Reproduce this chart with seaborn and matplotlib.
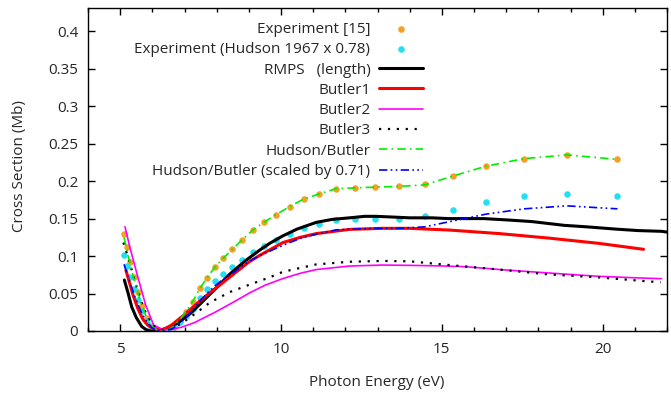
import numpy as np
import pandas as pd
import matplotlib
matplotlib.use("Agg")
import matplotlib.pyplot as plt
from matplotlib.ticker import MultipleLocator, FuncFormatter
import seaborn as sns

# ---------------- data ----------------
exp_x = [5.12, 5.2, 5.3, 5.42, 5.55, 5.68, 5.82, 5.97, 6.12, 6.3, 6.48, 6.66, 6.85,
         7.05, 7.25, 7.48, 7.7, 7.94, 8.2, 8.49, 8.8, 9.13, 9.47, 9.83, 10.27, 10.7,
         11.19, 11.72, 12.29, 12.93, 13.67, 14.47, 15.36, 16.38, 17.56, 18.89, 20.46]
exp15_y = [0.129, 0.112, 0.092, 0.072, 0.052, 0.034, 0.018, 0.007, 0.002, 0.0, 0.001,
           0.006, 0.015, 0.026, 0.039, 0.057, 0.071, 0.085, 0.097, 0.109, 0.122, 0.135,
           0.145, 0.155, 0.166, 0.176, 0.183, 0.190, 0.191, 0.192, 0.193, 0.196, 0.207,
           0.220, 0.230, 0.235, 0.230]
hudson_y = [0.101, 0.087, 0.072, 0.056, 0.041, 0.027, 0.014, 0.005, 0.002, 0.0, 0.001,
            0.005, 0.012, 0.020, 0.030, 0.044, 0.056, 0.067, 0.076, 0.085, 0.095, 0.105,
            0.113, 0.121, 0.130, 0.137, 0.143, 0.148, 0.149, 0.150, 0.150, 0.153, 0.162,
            0.172, 0.180, 0.183, 0.180]

rmps_x = [5.13, 5.25, 5.36, 5.5, 5.67, 5.8, 5.93, 6.1, 6.4, 6.8, 7.2, 7.58, 8.0, 8.41,
          8.9, 9.34, 9.65, 10.06, 10.5, 11.1, 11.6, 12.13, 12.6, 12.95, 13.5, 14.0, 14.7,
          15.2, 15.8, 16.3, 17.1, 17.8, 18.8, 19.5, 20.4, 21.1, 21.83, 22.0]
rmps_y = [0.068, 0.050, 0.032, 0.018, 0.006, 0.002, 0.0, 0.0, 0.003, 0.011, 0.024, 0.040,
          0.058, 0.076, 0.094, 0.108, 0.117, 0.127, 0.136, 0.145, 0.149, 0.151, 0.153,
          0.153, 0.152, 0.151, 0.151, 0.150, 0.150, 0.150, 0.148, 0.146, 0.141, 0.139,
          0.136, 0.134, 0.133, 0.132]

b1_x = [5.18, 5.3, 5.4, 5.55, 5.7, 5.85, 6.0, 6.3, 6.6, 7.0, 7.4, 7.7, 8.0, 8.41, 9.0,
        9.34, 10.06, 10.6, 11.1, 12.13, 13.16, 14.0, 15.23, 16.78, 18.32, 19.87, 21.27]
b1_y = [0.081, 0.063, 0.048, 0.030, 0.016, 0.008, 0.004, 0.001, 0.008, 0.022, 0.037,
        0.048, 0.058, 0.072, 0.092, 0.101, 0.118, 0.125, 0.130, 0.1356, 0.137, 0.137,
        0.1347, 0.130, 0.124, 0.117, 0.109]

b2_x = [5.15, 5.3, 5.53, 5.79, 6.04, 6.34, 6.6, 6.9, 7.3, 7.95, 8.5, 9.03, 9.5, 10.06,
        10.6, 11.1, 12.13, 13.16, 14.0, 15.0, 15.74, 16.8, 17.8, 18.8, 19.87, 21.0, 21.83]
b2_y = [0.139, 0.112, 0.075, 0.035, 0.008, 0.0015, 0.002, 0.005, 0.011, 0.025, 0.038,
        0.051, 0.061, 0.070, 0.077, 0.082, 0.0867, 0.088, 0.0876, 0.0868, 0.0858, 0.082,
        0.079, 0.076, 0.073, 0.071, 0.0698]

b3_x = [5.1, 5.25, 5.4, 5.55, 5.7, 5.85, 6.0, 6.2, 6.4, 6.6, 6.9, 7.32, 7.79, 8.41,
        9.03, 9.65, 10.06, 11.1, 12.13, 13.16, 14.0, 15.23, 16.78, 18.32, 19.87, 21.27,
        21.8]
b3_y = [0.118, 0.098, 0.075, 0.053, 0.034, 0.019, 0.008, 0.002, 0.001, 0.003, 0.010,
        0.0227, 0.038, 0.052, 0.062, 0.0716, 0.079, 0.0889, 0.0924, 0.0935, 0.093,
        0.088, 0.082, 0.0755, 0.0716, 0.0667, 0.065]

hb_x = exp_x
hb_y = [0.125, 0.110, 0.091, 0.071, 0.051, 0.033, 0.018, 0.007, 0.002, 0.0, 0.001,
        0.006, 0.015, 0.026, 0.039, 0.057, 0.071, 0.085, 0.097, 0.109, 0.122, 0.135,
        0.145, 0.155, 0.166, 0.176, 0.183, 0.190, 0.191, 0.192, 0.193, 0.195, 0.207,
        0.220, 0.230, 0.235, 0.229]
hbs_y = [0.089, 0.078, 0.065, 0.050, 0.036, 0.023, 0.013, 0.005, 0.001, 0.0, 0.001,
         0.004, 0.011, 0.018, 0.028, 0.040, 0.050, 0.060, 0.069, 0.077, 0.087, 0.096,
         0.103, 0.110, 0.118, 0.125, 0.130, 0.135, 0.136, 0.137, 0.137, 0.139, 0.147,
         0.156, 0.163, 0.167, 0.163]

labels = ["Experiment [15]", "Experiment (Hudson 1967 x 0.78)", "RMPS   (length)",
          "Butler1", "Butler2", "Butler3", "Hudson/Butler",
          "Hudson/Butler (scaled by 0.71)"]

# ---------------- figure ----------------
sns.set_theme(style="ticks")
FS = 11
plt.rcParams["font.family"] = ["Open Sans", "DejaVu Sans"]
plt.rcParams["font.size"] = FS

fig = plt.figure(figsize=(6.71, 3.98), dpi=100)
ax = fig.add_axes([88 / 671, 1 - 331 / 398, (667 - 88) / 671, (331 - 8) / 398])

sns.scatterplot(x=exp_x, y=exp15_y, ax=ax, color="#f4a024", s=22, linewidth=0,
                label=labels[0], zorder=2)
sns.scatterplot(x=exp_x, y=hudson_y, ax=ax, color="#22e0f0", s=22, linewidth=0,
                label=labels[1], zorder=2)
kw = dict(ax=ax, sort=False, estimator=None)
sns.lineplot(x=rmps_x, y=rmps_y, color="black", lw=2.2, label=labels[2], zorder=3, **kw)
sns.lineplot(x=b1_x, y=b1_y, color="#ff0000", lw=2.2, label=labels[3], zorder=3, **kw)
sns.lineplot(x=b2_x, y=b2_y, color="#ff00ff", lw=1.2, label=labels[4], zorder=3, **kw)
sns.lineplot(x=b3_x, y=b3_y, color="black", lw=1.6, linestyle=(0, (1, 3)),
             label=labels[5], zorder=3, **kw)
sns.lineplot(x=hb_x, y=hb_y, color="#00ee00", lw=1.2, linestyle=(0, (5, 2.5, 1, 2.5)),
             label=labels[6], zorder=3, **kw)
sns.lineplot(x=hb_x, y=hbs_y, color="#0000ff", lw=1.2,
             linestyle=(0, (5, 2, 1, 2, 1, 2)), label=labels[7], zorder=3, **kw)

ax.set_xlim(4, 22)
ax.set_ylim(0, 0.431)
ax.xaxis.set_major_locator(MultipleLocator(5))
ax.xaxis.set_minor_locator(MultipleLocator(1))
ax.yaxis.set_major_locator(MultipleLocator(0.05))
ax.yaxis.set_major_formatter(FuncFormatter(lambda v, p: "%g" % round(v, 3)))
ax.tick_params(which="both", direction="in", top=True, right=True, color="black",
               labelsize=FS, width=1)
ax.tick_params(which="major", length=5)
ax.tick_params(axis="x", which="major", pad=8)
ax.tick_params(axis="y", which="major", pad=7)
ax.tick_params(which="minor", length=3)
for s in ax.spines.values():
    s.set_color("black")
    s.set_linewidth(1)

ax.set_xlabel("Photon Energy (eV)", fontsize=FS, va="center")
ax.set_ylabel("Cross Section (Mb)", fontsize=FS, va="center")
ax.xaxis.set_label_coords(377 / 671, 1 - 383 / 398, transform=fig.transFigure)
ax.yaxis.set_label_coords(20 / 671, 1 - 166 / 398, transform=fig.transFigure)

handles, labs = ax.get_legend_handles_labels()
leg = ax.legend(handles, labs, loc="upper right", markerfirst=False, frameon=False,
                bbox_to_anchor=(423 / 671, 1 - 22 / 398), bbox_transform=fig.transFigure,
                borderpad=0, borderaxespad=0, handlelength=2.9, handletextpad=0.55,
                labelspacing=0.345, fontsize=FS, markerscale=1)

fig.savefig("out.png", dpi=100)
